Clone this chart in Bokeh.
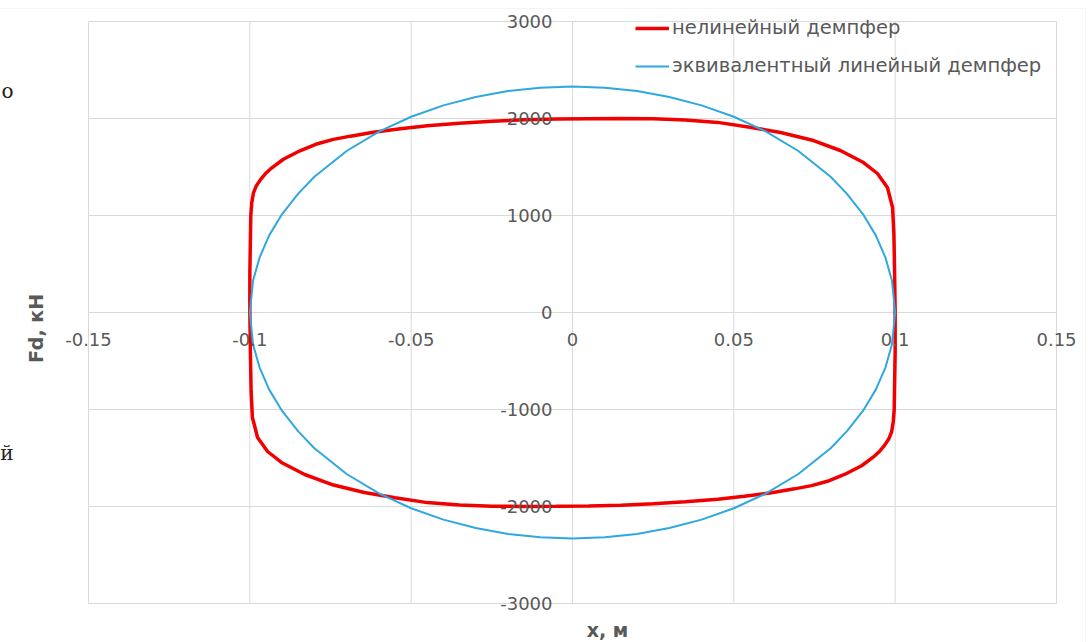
from bokeh.plotting import figure
from bokeh.models import (LinearAxis, FixedTicker, Legend, LegendItem, Label,
                          Range1d, BoxAnnotation)
from bokeh.embed import file_html
from bokeh.resources import INLINE

# ---- data ----
x_ticks = [-0.15, -0.1, -0.05, 0, 0.05, 0.1, 0.15]
x_tick_labels = ["-0.15", "-0.1", "-0.05", "0", "0.05", "0.1", "0.15"]
y_ticks = [-3000, -2000, -1000, 0, 1000, 2000, 3000]
y_tick_labels = ["-3000", "-2000", "-1000", "0", "1000", "2000", "3000"]

series_names = ["нелинейный демпфер", "эквивалентный линейный демпфер"]
x_title = "x, м"
y_title = "Fd, кН"

# nonlinear damper loop (upper branch left->right, then lower branch right->left)
red_x = [-0.1000, -0.1000, -0.0998, -0.0997, -0.0994, -0.0989, -0.0980, -0.0967,
         -0.0952, -0.0936, -0.0896,
         -0.0843, -0.0790, -0.0741, -0.0688, -0.0617, -0.0533, -0.0450, -0.0350,
         -0.0250, -0.0150, -0.0050, 0.0050, 0.0150, 0.0250, 0.0350, 0.0450,
         0.0550, 0.0645, 0.0747, 0.0830, 0.0902, 0.0945, 0.0976, 0.0992,
         0.0996, 0.0998, 0.1000,
         0.1000, 0.1000, 0.0998, 0.0997, 0.0994, 0.0989, 0.0980, 0.0967,
         0.0952, 0.0936, 0.0896,
         0.0843, 0.0790, 0.0741, 0.0688, 0.0617, 0.0533, 0.0450, 0.0350,
         0.0250, 0.0150, 0.0050, -0.0050, -0.0150, -0.0250, -0.0350, -0.0450,
         -0.0550, -0.0645, -0.0747, -0.0830, -0.0902, -0.0945, -0.0976, -0.0992,
         -0.0996, -0.0998, -0.1000]
red_y = [0, 400, 800, 1000, 1130, 1230, 1305, 1370,
         1430, 1480, 1580,
         1670, 1740, 1785, 1818, 1858, 1895, 1925, 1950,
         1972, 1986, 1994, 1998, 2000, 1997, 1985, 1960,
         1910, 1856, 1773, 1670, 1546, 1433, 1289, 1083,
         814, 464, 0,
         0, -400, -800, -1000, -1130, -1230, -1305, -1370,
         -1430, -1480, -1580,
         -1670, -1740, -1785, -1818, -1858, -1895, -1925, -1950,
         -1972, -1986, -1994, -1998, -2000, -1997, -1985, -1960,
         -1910, -1856, -1773, -1670, -1546, -1433, -1289, -1083,
         -814, -464, 0]

# equivalent linear damper loop
blue_x = [-0.100, -0.099, -0.097, -0.094, -0.090, -0.085, -0.080, -0.070, -0.060,
          -0.050, -0.040, -0.030, -0.020, -0.010, 0.000, 0.010, 0.020, 0.030,
          0.040, 0.050, 0.060, 0.070, 0.080, 0.085, 0.090, 0.094, 0.097, 0.099,
          0.100,
          0.099, 0.097, 0.094, 0.090, 0.085, 0.080, 0.070, 0.060,
          0.050, 0.040, 0.030, 0.020, 0.010, 0.000, -0.010, -0.020, -0.030,
          -0.040, -0.050, -0.060, -0.070, -0.080, -0.085, -0.090, -0.094, -0.097,
          -0.099, -0.100]
blue_y = [0, 330, 565, 795, 1015, 1225, 1400, 1665, 1865,
          2018, 2135, 2222, 2283, 2318, 2330, 2318, 2283, 2222,
          2135, 2018, 1865, 1665, 1400, 1225, 1015, 795, 565, 330,
          0,
          -330, -565, -795, -1015, -1225, -1400, -1665, -1865,
          -2018, -2135, -2222, -2283, -2318, -2330, -2318, -2283, -2222,
          -2135, -2018, -1865, -1665, -1400, -1225, -1015, -795, -565,
          -330, 0]

FONT = "DejaVu Sans"
GRAY = "#595959"
GRID = "#d9d9d9"

# ---- layout: the plot area spans pixels 88..1056 (x) and 21..603 (y) ----
W, H = 1092, 642
PL, PR, PT, PB = 88, 1056, 21, 603
xmin, xmax = min(x_ticks), max(x_ticks)
ymin, ymax = min(y_ticks), max(y_ticks)
xs = (xmax - xmin) / (PR - PL)
ys = (ymax - ymin) / (PB - PT)
x_lo, x_hi = xmin - PL * xs, xmax + (W - PR) * xs
y_lo, y_hi = ymin - (H - PB) * ys, ymax + PT * ys


def dx(px):
    return x_lo + px * xs


def dy(py):
    return y_hi - py * ys


p = figure(width=W, height=H, output_backend="svg", toolbar_location=None,
           x_range=Range1d(x_lo, x_hi), y_range=Range1d(y_lo, y_hi),
           x_axis_type=None, y_axis_type=None,
           min_border_left=0, min_border_right=0,
           min_border_top=0, min_border_bottom=0)
p.outline_line_color = None
p.background_fill_color = "white"
p.border_fill_color = "white"

# outer chart-area border (top and right edges visible)
p.add_layout(BoxAnnotation(left=dx(-50), right=dx(1085), top=dy(8), bottom=dy(700),
                           fill_alpha=0, line_color=GRID, line_width=1))

# gridlines from the tick arrays
p.segment(x0=x_ticks, y0=[ymin] * len(x_ticks), x1=x_ticks, y1=[ymax] * len(x_ticks),
          line_color=GRID, line_width=1)
p.segment(x0=[xmin] * len(y_ticks), y0=y_ticks, x1=[xmax] * len(y_ticks), y1=y_ticks,
          line_color=GRID, line_width=1)

xaxis = LinearAxis(ticker=FixedTicker(ticks=x_ticks), fixed_location=0,
                   major_label_overrides={t: l for t, l in zip(x_ticks, x_tick_labels)},
                   axis_line_color=None, major_tick_line_color=None,
                   minor_tick_line_color=None, major_tick_out=0, major_tick_in=0,
                   major_label_standoff=20,
                   major_label_text_font=FONT, major_label_text_font_size="18px",
                   major_label_text_color=GRAY)
p.add_layout(xaxis, "below")

yaxis = LinearAxis(ticker=FixedTicker(ticks=y_ticks), fixed_location=0,
                   major_label_overrides={t: l for t, l in zip(y_ticks, y_tick_labels)},
                   axis_line_color=None, major_tick_line_color=None,
                   minor_tick_line_color=None, major_tick_out=0, major_tick_in=0,
                   major_label_standoff=20,
                   major_label_text_font=FONT, major_label_text_font_size="18px",
                   major_label_text_color=GRAY)
p.add_layout(yaxis, "left")

r_red = p.line(red_x, red_y, line_color="#f00000", line_width=3.5)
r_blue = p.line(blue_x, blue_y, line_color="#2ea8df", line_width=2)

legend = Legend(items=[LegendItem(label=series_names[0], renderers=[r_red]),
                       LegendItem(label=series_names[1], renderers=[r_blue])],
                location=(635, H - 77), margin=0, padding=0, spacing=15,
                glyph_width=34, glyph_height=20, label_height=20,
                label_standoff=3, label_text_font=FONT,
                label_text_font_size="19.5px", label_text_color=GRAY,
                background_fill_alpha=0, border_line_alpha=0)
p.add_layout(legend)

# axis titles
p.add_layout(Label(x=dx(35), y=dy(328), text=y_title, angle=90, angle_units="deg",
                   text_align="center", text_baseline="middle", text_font=FONT,
                   text_font_size="19px", text_font_style="bold", text_color=GRAY))
p.add_layout(Label(x=dx(607), y=dy(629), text=x_title,
                   text_align="center", text_baseline="middle", text_font=FONT,
                   text_font_size="19px", text_font_style="bold", text_color=GRAY))

# stray text fragments visible at the left edge of the picture
p.add_layout(Label(x=dx(13), y=dy(90), text="о", text_align="right",
                   text_baseline="middle", text_font="DejaVu Serif",
                   text_font_size="20px", text_color="#222222"))
p.add_layout(Label(x=dx(13), y=dy(452), text="й", text_align="right",
                   text_baseline="middle", text_font="DejaVu Serif",
                   text_font_size="20px", text_color="#222222"))

open("out.html", "w").write(file_html(p, INLINE))
